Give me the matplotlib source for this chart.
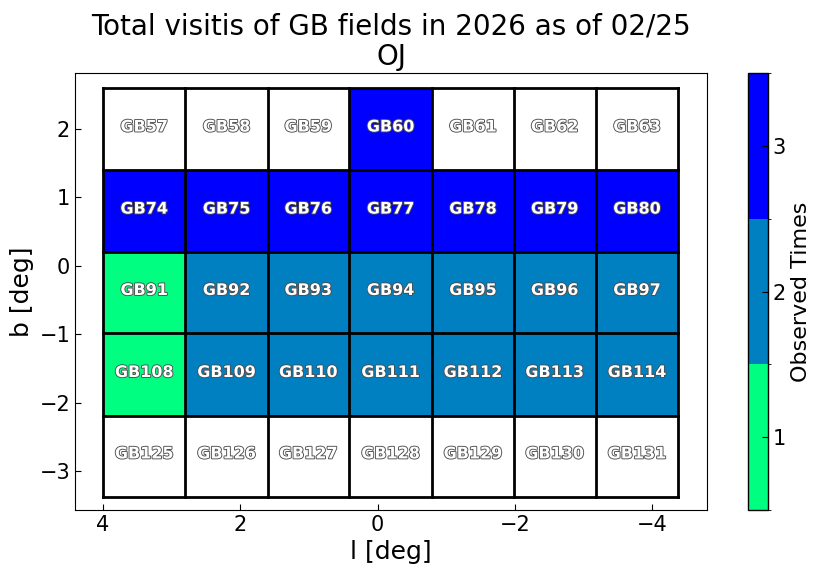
import numpy as np
import matplotlib
matplotlib.use("Agg")
import matplotlib.pyplot as plt
from matplotlib.colors import ListedColormap, BoundaryNorm
import matplotlib.patheffects as pe
import matplotlib.transforms as mtransforms

# Data
l_centers = [3.40, 2.20, 1.01, -0.19, -1.39, -2.58, -3.78]
b_centers = [2.00, 0.80, -0.39, -1.59, -2.78]
row_start_fields = [57, 74, 91, 108, 125]
counts = [
    [0, 0, 0, 3, 0, 0, 0],
    [3, 3, 3, 3, 3, 3, 3],
    [1, 2, 2, 2, 2, 2, 2],
    [1, 2, 2, 2, 2, 2, 2],
    [0, 0, 0, 0, 0, 0, 0],
]
cbar_ticks = [1, 2, 3]
colors = ["#00ff80", "#0080c0", "#0000ff"]
half = 0.598

fig = plt.figure(figsize=(8.22, 5.75), dpi=100)
ax = fig.add_axes([0.0912, 0.113, 0.769, 0.760])
cax = fig.add_axes([0.910, 0.113, 0.024, 0.760])

lc = np.array(l_centers)
bc = np.array(b_centers)
x_edges = np.concatenate([[lc[0] + half], lc - half])
y_edges = np.concatenate([[bc[0] + half], bc - half])

C = np.ma.masked_equal(np.array(counts, dtype=float), 0)
cmap = ListedColormap(colors)
norm = BoundaryNorm([0.5, 1.5, 2.5, 3.5], cmap.N)
mesh = ax.pcolormesh(x_edges, y_edges, C, cmap=cmap, norm=norm)

for xe in x_edges:
    ax.plot([xe, xe], [y_edges[-1], y_edges[0]], color='k', lw=2, solid_capstyle='projecting')
for ye in y_edges:
    ax.plot([x_edges[0], x_edges[-1]], [ye, ye], color='k', lw=2, solid_capstyle='projecting')

trans = mtransforms.offset_copy(ax.transData, fig=fig, x=0, y=1.5, units='points')
for i, b in enumerate(b_centers):
    for j, l in enumerate(l_centers):
        name = f"GB{row_start_fields[i] + j}"
        ax.text(l, b, name, ha='center', va='center', color='white',
                fontsize=11.5, fontweight='bold', transform=trans,
                path_effects=[pe.withStroke(linewidth=1.3, foreground='0.3')])

ax.set_xlim(4.41, -4.80)
ax.set_ylim(-3.57, 2.82)
ax.set_xticks([4, 2, 0, -2, -4])
ax.set_xticklabels(['4', '2', '0', '−2', '−4'])
ax.set_yticks([2, 1, 0, -1, -2, -3])
ax.tick_params(direction='in', labelsize=15, length=4)
ax.set_xlabel('l [deg]', fontsize=18)
ax.set_ylabel('b [deg]', fontsize=18)
ax.set_title('Total visitis of GB fields in 2026 as of 02/25\nOJ', fontsize=20, linespacing=1.1)

cb = fig.colorbar(mesh, cax=cax, ticks=cbar_ticks)
cb.ax.tick_params(direction='in', labelsize=15, length=4)
cb.set_label('Observed Times', fontsize=16)
cb.outline.set_linewidth(1)

fig.savefig('out.png', dpi=100)
